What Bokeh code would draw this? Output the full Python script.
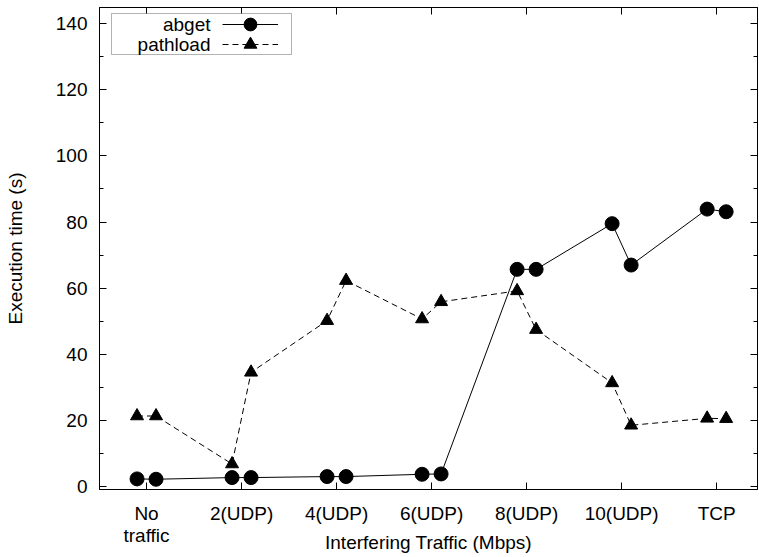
from bokeh.plotting import figure
from bokeh.models import (FixedTicker, LinearAxis, Range1d, Legend, LegendItem,
                          BoxAnnotation, Label)
from bokeh.core.properties import value
from bokeh.embed import file_html
from bokeh.resources import INLINE

# ---- data ----
categories = ["No\ntraffic", "2(UDP)", "4(UDP)", "6(UDP)", "8(UDP)", "10(UDP)", "TCP"]
abget_first = [2.4, 2.8, 3.1, 3.8, 65.7, 79.5, 83.9]
abget_second = [2.3, 2.8, 3.1, 3.9, 65.7, 67.0, 83.1]
pathload_first = [21.4, 6.9, 50.2, 50.7, 59.2, 31.4, 20.7]
pathload_second = [21.4, 34.6, 62.3, 55.9, 47.5, 18.6, 20.6]
pair_offset = 0.1
y_ticks = [0, 20, 40, 60, 80, 100, 120, 140]
y_minor = [10, 30, 50, 70, 90, 110, 130]

xs, ya, yp = [], [], []
for i in range(len(categories)):
    xs += [i - pair_offset, i + pair_offset]
    ya += [abget_first[i], abget_second[i]]
    yp += [pathload_first[i], pathload_second[i]]

FONT = "Liberation Sans"
FS = "19px"

p = figure(width=758, height=556, output_backend="svg", toolbar_location=None,
           x_range=Range1d(-0.495, 6.43), y_range=Range1d(-0.8, 144.8),
           min_border_left=99, min_border_top=7, min_border_bottom=67,
           min_border_right=1)
p.xgrid.visible = False
p.ygrid.visible = False
p.outline_line_color = "black"
p.background_fill_color = "white"

l1 = p.line(xs, ya, line_color="black", line_width=1)
s1 = p.scatter(xs, ya, marker="circle", size=14, fill_color="black", line_color="black")
l2 = p.line(xs, yp, line_color="black", line_width=1, line_dash="6 4")
s2 = p.scatter(xs, yp, marker="triangle", size=13, fill_color="black", line_color="black")

xt = FixedTicker(ticks=list(range(len(categories))), minor_ticks=[])
yt = FixedTicker(ticks=y_ticks, minor_ticks=y_minor)

def style(ax, labels=True):
    ax.axis_line_color = "black"
    ax.major_tick_line_color = "black"
    ax.minor_tick_line_color = "black"
    ax.major_tick_in = 7
    ax.major_tick_out = 0
    ax.minor_tick_in = 4
    ax.minor_tick_out = 0
    ax.major_label_text_font = FONT
    ax.major_label_text_color = "black" if labels else None
    ax.major_label_text_font_size = FS if labels else "0px"
    ax.axis_label_text_font = FONT
    ax.axis_label_text_font_size = FS
    ax.axis_label_text_font_style = "normal"
    ax.axis_label_text_color = "black"

xa = p.xaxis[0]
xa.ticker = xt
xa.major_label_overrides = {i: c for i, c in enumerate(categories)}
xa.axis_label = "Interfering Traffic (Mbps)"
style(xa)
xa.major_label_text_line_height = 1.05
xa.major_label_standoff = 13
xa.axis_label_standoff = -17

ya_ax = p.yaxis[0]
ya_ax.ticker = yt
ya_ax.axis_label = "Execution time (s)"
style(ya_ax)
ya_ax.major_label_standoff = 12
ya_ax.axis_label_standoff = 27

top = LinearAxis(ticker=xt)
style(top, labels=False)
top.major_label_standoff = 0
p.add_layout(top, "above")
right = LinearAxis(ticker=yt)
style(right, labels=False)
right.major_label_standoff = 0
p.add_layout(right, "right")

# legend (gnuplot style: text left of sample)
box = BoxAnnotation(left=12, right=192, top=476, bottom=435,
                    left_units="screen", right_units="screen",
                    top_units="screen", bottom_units="screen",
                    fill_color="white", fill_alpha=1, line_color="black", line_width=1)
p.add_layout(box)
for txt, yy in [("abget", 465), ("pathload", 445)]:
    p.add_layout(Label(x=111, y=yy, x_units="screen", y_units="screen", text=txt,
                       text_align="right", text_baseline="middle",
                       text_font=FONT, text_font_size=FS, text_color="black"))

for rends, loc_y in [([l1, s1], 449), ([l2, s2], 429)]:
    leg = Legend(items=[LegendItem(label=value(" "), renderers=rends)],
                 location=(123, loc_y), glyph_width=56, glyph_height=32, label_height=32,
                 label_width=0, label_standoff=0, spacing=0, padding=0, margin=0,
                 background_fill_alpha=0, border_line_alpha=0, label_text_font_size="1px")
    p.add_layout(leg, "center")

open("out.html", "w").write(file_html(p, INLINE))
